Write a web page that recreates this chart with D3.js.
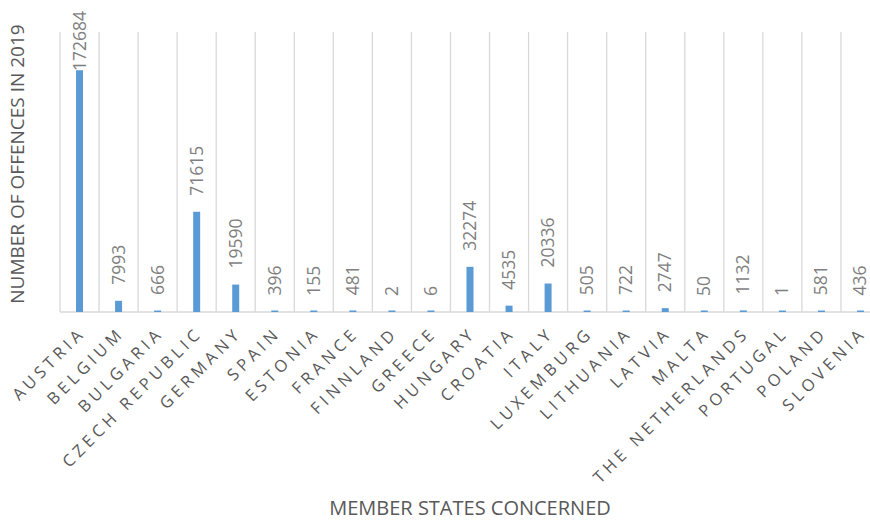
<!DOCTYPE html>
<html>
<head>
<meta charset="utf-8">
<script src="https://cdn.jsdelivr.net/npm/d3@7.9.0/dist/d3.min.js"></script>
<style>
  body { margin: 0; background: #fff; }
  text { font-family: "Open Sans", sans-serif; }
</style>
</head>
<body>
<svg id="chart" width="870" height="520"></svg>
<script>
const countries = ['AUSTRIA', 'BELGIUM', 'BULGARIA', 'CZECH REPUBLIC', 'GERMANY', 'SPAIN',
  'ESTONIA', 'FRANCE', 'FINNLAND', 'GREECE', 'HUNGARY', 'CROATIA', 'ITALY', 'LUXEMBURG',
  'LITHUANIA', 'LATVIA', 'MALTA', 'THE NETHERLANDS', 'PORTUGAL', 'POLAND', 'SLOVENIA'];
const offences = [172684, 7993, 666, 71615, 19590, 396, 155, 481, 2, 6, 32274, 4535, 20336,
  505, 722, 2747, 50, 1132, 1, 581, 436];
const yMax = 200000;

const margin = { top: 32, right: -10, bottom: 208, left: 60 };
const width = 870, height = 520;
const svg = d3.select('#chart');

const x = d3.scaleBand()
  .domain(countries)
  .range([margin.left, width - margin.right])
  .padding(0);

const y = d3.scaleLinear()
  .domain([0, yMax])
  .range([height - margin.bottom, margin.top]);

const grid = '#d9d9d9';

// vertical gridlines between categories
const bounds = countries.map(c => x(c)).concat([x(countries[countries.length - 1]) + x.bandwidth()]);
svg.append('g')
  .selectAll('line')
  .data(bounds)
  .join('line')
  .attr('x1', d => d).attr('x2', d => d)
  .attr('y1', y(yMax)).attr('y2', y(0))
  .attr('stroke', grid)
  .attr('stroke-width', 1.3);

// baseline
svg.append('line')
  .attr('x1', margin.left).attr('x2', width - margin.right)
  .attr('y1', y(0)).attr('y2', y(0))
  .attr('stroke', grid)
  .attr('stroke-width', 1.5);

const barW = 7;
svg.append('g')
  .selectAll('rect')
  .data(offences)
  .join('rect')
  .attr('x', (d, i) => x(countries[i]) + x.bandwidth() / 2 - barW / 2)
  .attr('width', barW)
  .attr('y', d => Math.min(y(d), y(0) - 1.5))
  .attr('height', d => Math.max(y(0) - y(d), 1.5))
  .attr('fill', '#5b9bd5');

// value labels
svg.append('g')
  .selectAll('text')
  .data(offences)
  .join('text')
  .attr('font-size', 17.5)
  .attr('fill', '#7f7f7f')
  .attr('text-anchor', 'start')
  .text(d => d)
  .each(function (d, i) {
    const len = this.getComputedTextLength();
    let start = y(d) - 16;
    if (start - len < 8) start = len + 11;
    const cx = x(countries[i]) + x.bandwidth() / 2 + 6;
    d3.select(this).attr('transform', `translate(${cx},${start}) rotate(-90)`);
  });

// category labels
svg.append('g')
  .selectAll('text')
  .data(countries)
  .join('text')
  .attr('font-size', 16.5)
  .attr('fill', '#595959')
  .attr('letter-spacing', 4.2)
  .attr('text-anchor', 'end')
  .attr('transform', d => `translate(${x(d) + x.bandwidth() / 2 + 7},${y(0) + 22}) rotate(-45)`)
  .text(d => d);

// axis titles
svg.append('text')
  .attr('font-size', 19)
  .attr('fill', '#595959')
  .attr('text-anchor', 'middle')
  .attr('transform', 'translate(24,164) rotate(-90)')
  .text('NUMBER OF OFFENCES IN 2019');

svg.append('text')
  .attr('font-size', 20)
  .attr('fill', '#595959')
  .attr('text-anchor', 'middle')
  .attr('x', 470)
  .attr('y', 515)
  .text('MEMBER STATES CONCERNED');
</script>
</body>
</html>
